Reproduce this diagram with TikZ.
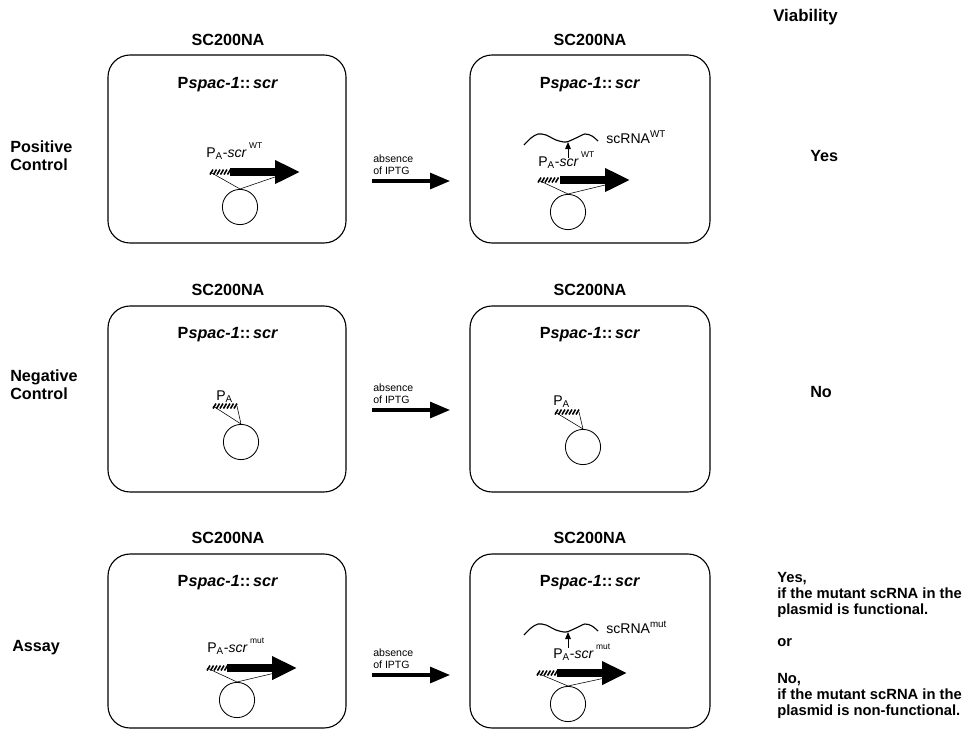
\documentclass[tikz,border=0pt]{standalone}
\usepackage{fontspec}
\setmainfont{Liberation Sans}
\usetikzlibrary{arrows.meta,calc}

\begin{document}
\begin{tikzpicture}[x=0.025cm, y=-0.025cm,
	cell/.style={draw, line width=0.8pt, rounded corners=0.55cm},
	strain/.style={font=\fontsize{11.5}{13}\selectfont\bfseries, inner sep=0},
	side/.style={font=\fontsize{11.5}{13}\selectfont\bfseries, align=left, anchor=west, inner sep=0},
	cond/.style={font=\fontsize{7.5}{8.5}\selectfont, align=left, anchor=south west, inner sep=0},
	lab/.style={font=\fontsize{10}{12}\selectfont, anchor=base west, inner sep=0},
	plasmid/.style={circle, draw, line width=0.6pt, minimum size=0.88cm, inner sep=0},
	gene/.style={line width=5pt, -{Triangle[length=0.62cm, width=0.55cm]}},
	iptg/.style={line width=2.2pt, -{Triangle[length=0.5cm, width=0.4cm]}},
	rna/.style={line width=0.6pt, -{Triangle[length=5pt, width=4pt]}},
	hatch/.style={line width=1.1pt}]
	\useasboundingbox (0,0) rectangle (966,730);
	% headings
	\node[side, font=\fontsize{12}{13}\selectfont\bfseries] (via) at (773,17) {Viability};
	% row 1: positive control
	\coordinate (A1) at (108,55);
	\coordinate (B1) at (346,243);
	\coordinate (C1) at (470,55);
	\coordinate (D1) at (710,243);
	\draw[cell] (A1) rectangle (B1);
	\draw[cell] (C1) rectangle (D1);
	\node[strain] (s11) at (228,40) {SC200NA};
	\node[strain] (s12) at (590,40) {SC200NA};
	\node[strain] (p11) at (228,85) {P\textit{spac-1}::\,\textit{scr}};
	\node[strain] (p12) at (590,85) {P\textit{spac-1}::\,\textit{scr}};
	\node[side] (pos) at (10,156) {Positive\\Control};
	\coordinate (i1s) at (372,181);
	\coordinate (i1e) at (450,181);
	\draw[iptg] (i1s) -- (i1e);
	\node[cond] (t1) at (373,175) {absence\\of IPTG};
	\node[side] (v1) at (810,156) {Yes};
	% left cell
	\node[lab] (l11) at (206,157) {P\textsubscript{A}-\textit{scr}\,\raisebox{1.1ex}{\fontsize{6}{7}\selectfont WT}};
	\coordinate (h11) at (210,172);
	\coordinate (g11) at (230,172);
	\coordinate (e11) at (300,172);
	\foreach \i in {0,...,5}
		\draw[hatch] ($(h11)+(\i*3.5,2.5)$) -- ++(3,-5);
	\draw[gene] (g11) -- (e11);
	\node[plasmid] (c11) at (240,207) {};
	\coordinate (r11) at (275,177);
	\draw (h11) -- (c11.north) -- (r11);
	% right cell
	\draw[line width=0.8pt] plot[smooth] coordinates {(524,145) (531,138) (538,134) (546,135) (556,140) (566,142) (576,138) (585,134) (592,136) (598,141)};
	\coordinate (u12s) at (568,158);
	\coordinate (u12e) at (568,142);
	\draw[rna] (u12s) -- (u12e);
	\node[lab] (n12) at (606,143) {scRNA\textsuperscript{WT}};
	\node[lab] (l12) at (538,166) {P\textsubscript{A}-\textit{scr}\,\raisebox{1.1ex}{\fontsize{6}{7}\selectfont WT}};
	\coordinate (h12) at (538,180);
	\coordinate (g12) at (560,180);
	\coordinate (e12) at (630,180);
	\foreach \i in {0,...,5}
		\draw[hatch] ($(h12)+(\i*3.5,2.5)$) -- ++(3,-5);
	\draw[gene] (g12) -- (e12);
	\node[plasmid] (c12) at (568,212) {};
	\coordinate (r12) at (605,185);
	\draw (h12) -- (c12.north) -- (r12);
	% row 2: negative control
	\coordinate (A2) at (108,306);
	\coordinate (B2) at (346,492);
	\coordinate (C2) at (470,306);
	\coordinate (D2) at (710,492);
	\draw[cell] (A2) rectangle (B2);
	\draw[cell] (C2) rectangle (D2);
	\node[strain] (s21) at (228,290) {SC200NA};
	\node[strain] (s22) at (590,290) {SC200NA};
	\node[strain] (p21) at (228,335) {P\textit{spac-1}::\,\textit{scr}};
	\node[strain] (p22) at (590,335) {P\textit{spac-1}::\,\textit{scr}};
	\node[side] (neg) at (10,385) {Negative\\Control};
	\coordinate (i2s) at (372,410);
	\coordinate (i2e) at (450,410);
	\draw[iptg] (i2s) -- (i2e);
	\node[cond] (t2) at (373,404) {absence\\of IPTG};
	\node[side] (v2) at (810,392) {No};
	% left cell
	\node[lab] (l21) at (216,400) {P\textsubscript{A}};
	\coordinate (h21) at (213,406);
	\coordinate (k21) at (237,406);
	\foreach \i in {0,...,6}
		\draw[hatch] ($(h21)+(\i*3.5,2.5)$) -- ++(3,-5);
	\node[plasmid] (c21) at (241,442) {};
	\draw (h21) -- (c21.north) -- (k21);
	% right cell
	\node[lab] (l22) at (553,405) {P\textsubscript{A}};
	\coordinate (h22) at (555,412);
	\coordinate (k22) at (579,412);
	\foreach \i in {0,...,6}
		\draw[hatch] ($(h22)+(\i*3.5,2.5)$) -- ++(3,-5);
	\node[plasmid] (c22) at (583,447) {};
	\draw (h22) -- (c22.north) -- (k22);
	% row 3: assay
	\coordinate (A3) at (108,554);
	\coordinate (B3) at (346,728);
	\coordinate (C3) at (470,554);
	\coordinate (D3) at (710,728);
	\draw[cell] (A3) rectangle (B3);
	\draw[cell] (C3) rectangle (D3);
	\node[strain] (s31) at (228,538) {SC200NA};
	\node[strain] (s32) at (590,538) {SC200NA};
	\node[strain] (p31) at (228,583) {P\textit{spac-1}::\,\textit{scr}};
	\node[strain] (p32) at (590,583) {P\textit{spac-1}::\,\textit{scr}};
	\node[side] (ass) at (12,648) {Assay};
	\coordinate (i3s) at (372,675);
	\coordinate (i3e) at (450,675);
	\draw[iptg] (i3s) -- (i3e);
	\node[cond] (t3) at (373,669) {absence\\of IPTG};
	\node[side, anchor=north west, font=\fontsize{10.5}{11.4}\selectfont\bfseries] (v3) at (777,572)
		{Yes,\\if the mutant scRNA in the\\plasmid is functional.\\[0.4cm]or\\[0.52cm]No,\\if the mutant scRNA in the\\plasmid is non-functional.};
	% left cell
	\node[lab] (l31) at (207,652) {P\textsubscript{A}-\textit{scr}\,\raisebox{1.1ex}{\fontsize{6}{7}\selectfont mut}};
	\coordinate (h31) at (207,668);
	\coordinate (g31) at (227,668);
	\coordinate (e31) at (297,668);
	\foreach \i in {0,...,5}
		\draw[hatch] ($(h31)+(\i*3.5,2.5)$) -- ++(3,-5);
	\draw[gene] (g31) -- (e31);
	\node[plasmid] (c31) at (237,700) {};
	\coordinate (r31) at (275,673);
	\draw (h31) -- (c31.north) -- (r31);
	% right cell
	\draw[line width=0.8pt] plot[smooth] coordinates {(524,635) (531,628) (538,624) (546,625) (556,630) (566,632) (576,628) (585,624) (592,626) (598,631)};
	\coordinate (u32s) at (568,648);
	\coordinate (u32e) at (568,632);
	\draw[rna] (u32s) -- (u32e);
	\node[lab] (n32) at (606,633) {scRNA\textsuperscript{mut}};
	\node[lab] (l32) at (553,658) {P\textsubscript{A}-\textit{scr}\,\raisebox{1.1ex}{\fontsize{6}{7}\selectfont mut}};
	\coordinate (h32) at (537,673);
	\coordinate (g32) at (557,673);
	\coordinate (e32) at (627,673);
	\foreach \i in {0,...,5}
		\draw[hatch] ($(h32)+(\i*3.5,2.5)$) -- ++(3,-5);
	\draw[gene] (g32) -- (e32);
	\node[plasmid] (c32) at (568,704) {};
	\coordinate (r32) at (605,678);
	\draw (h32) -- (c32.north) -- (r32);
\end{tikzpicture}
\end{document}
